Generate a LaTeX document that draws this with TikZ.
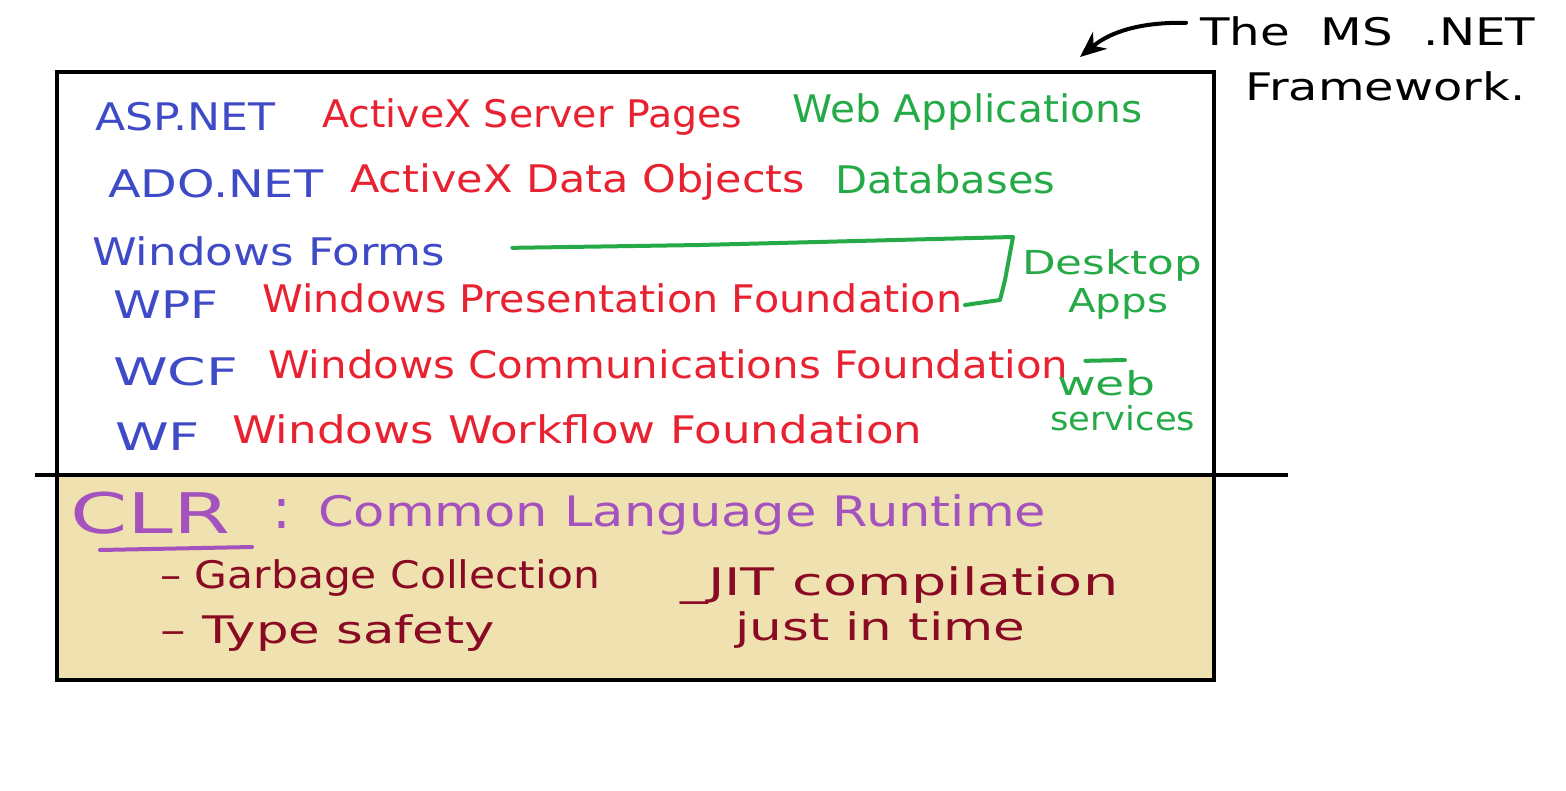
\documentclass[tikz,border=0pt]{standalone}
\usepackage{fontspec}
\setmainfont{DejaVu Sans}
\usetikzlibrary{arrows.meta}
\definecolor{hblue}{HTML}{3F4BC6}
\definecolor{hred}{HTML}{E82230}
\definecolor{hgreen}{HTML}{26AA48}
\definecolor{hpurple}{HTML}{A452BE}
\definecolor{hdark}{HTML}{8A0A24}
\definecolor{htan}{HTML}{EFE2B0}
\newcommand{\hw}[2]{\resizebox{#1pt}{\height}{#2}}
\tikzset{
  hand/.style={anchor=base west, inner sep=0pt, font=\fontsize{38}{40}\selectfont},
  bl/.style={hand, text=hblue},
  rd/.style={hand, text=hred},
  gr/.style={hand, text=hgreen},
  grs/.style={gr, font=\fontsize{33}{35}\selectfont},
  pu/.style={hand, text=hpurple, font=\fontsize{42}{44}\selectfont},
  pubig/.style={pu, font=\fontsize{56}{58}\selectfont},
  dk/.style={hand, text=hdark},
  bk/.style={hand, text=black},
  stroke/.style={line width=4pt, line cap=round, line join=round},
}
\begin{document}
\begin{tikzpicture}[x=1pt,y=-1pt]
\useasboundingbox (0,0) rectangle (1566,790);
% CLR background
\fill[htan] (57,475) rectangle (1214,680);
% frame
\draw[line width=4.5pt] (57,72) rectangle (1214,680);
\draw[line width=4.5pt] (35,475) -- (1288,475);

% title
\node[bk] (the) at (1200,45) {\hw{335}{The\ \ MS\ \ .NET}};
\node[bk] (fw) at (1245,100) {\hw{280}{Framework.}};
\coordinate (tip) at (1080,57);
\draw[stroke, -{Stealth[length=26pt,width=22pt]}] (the.west) ++(-14,-8) .. controls (1140,22) and (1110,32) .. (tip);

% rows
\node[bl] (asp) at (95,130) {\hw{180}{ASP.NET}};
\node[rd] (aspx) at (322,127) {\hw{420}{ActiveX Server Pages}};
\node[gr] (webapp) at (792,122) {\hw{350}{Web Applications}};

\node[bl] (ado) at (108,197) {\hw{215}{ADO.NET}};
\node[rd] (adox) at (350,192) {\hw{455}{ActiveX Data Objects}};
\node[gr] (db) at (835,193) {\hw{220}{Databases}};

\node[bl] (winforms) at (92,265) {\hw{353}{Windows Forms}};

\node[bl] (wpf) at (113,318) {\hw{105}{WPF}};
\node[rd] (wpfx) at (262,312) {\hw{700}{Windows Presentation Foundation}};
\node[grs] (desk) at (1022,274) {\hw{180}{Desktop}};
\node[grs] (apps) at (1068,312) {\hw{100}{Apps}};

\node[bl] (wcf) at (113,385) {\hw{125}{WCF}};
\node[rd] (wcfx) at (268,378) {\hw{800}{Windows Communications Foundation}};
\node[grs] (web) at (1057,395) {\hw{98}{web}};
\node[grs] (svc) at (1050,430) {\hw{145}{services}};

\node[bl] (wf) at (115,450) {\hw{85}{WF}};
\node[rd] (wfx) at (232,443) {\hw{690}{Windows Workflow Foundation}};

% green connectors
\coordinate (g1) at (1013,237);
\coordinate (g2) at (965,305);
\draw[hgreen, stroke] (winforms.east) ++(67,-3) -- (700,245) -- (g1) -- (1005,280) -- (1000,300) -- (g2);
\draw[hgreen, stroke] (wcfx.east) ++(17,-3) -- (1125,360);

% CLR
\node[pubig] (clr) at (70,533) {\hw{160}{CLR}};
\node[pubig] (colon) at (272,528) {:};
\node[pu] (clrx) at (318,526) {\hw{728}{Common Language Runtime}};
\coordinate (ul) at (252,547);
\draw[hpurple, stroke] (clr.south west) ++(30,16) -- (ul);

\node[dk] (gc) at (160,588) {\hw{440}{– Garbage Collection}};
\node[dk] (ts) at (160,643) {\hw{335}{– Type safety}};
\node[dk] (jit) at (680,595) {\hw{438}{\_JIT compilation}};
\node[dk] (jt) at (735,640) {\hw{290}{just in time}};
\end{tikzpicture}
\end{document}
